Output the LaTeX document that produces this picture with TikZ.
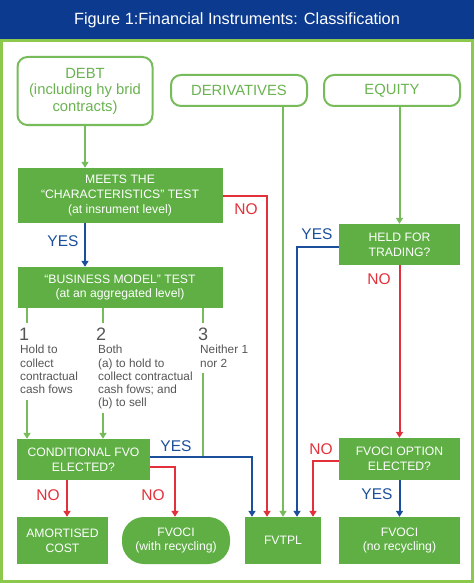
\documentclass[tikz,border=0pt]{standalone}
\usepackage{fontspec}
\setmainfont{Liberation Sans}
\usetikzlibrary{arrows.meta}
\definecolor{gfill}{HTML}{5FAF45}
\definecolor{gline}{HTML}{77BB5A}
\definecolor{gtxt}{HTML}{6AB350}
\definecolor{frame}{HTML}{8CC84B}
\definecolor{tblue}{HTML}{0B3A8E}
\definecolor{lblue}{HTML}{1B4F9C}
\definecolor{lred}{HTML}{E2313B}
\definecolor{grey}{HTML}{555555}
\tikzset{
  gbox/.style={fill=gfill, draw=none, text=white, font=\fontsize{12.2}{14.8}\selectfont, align=center, inner sep=0pt},
  obox/.style={draw=gline, line width=2pt, fill=white, rounded corners=10pt, text=gtxt, font=\fontsize{14.8}{16.5}\selectfont, align=center, inner sep=0pt},
  arr/.style={-{Triangle[width=7pt,length=6pt]}, line width=2pt},
  garr/.style={arr, draw=gline},
  barr/.style={arr, draw=lblue},
  rarr/.style={arr, draw=lred},
  gl/.style={draw=gline, line width=2pt},
  lblb/.style={text=lblue, font=\fontsize{15.5}{16}\selectfont, inner sep=0pt},
  lblr/.style={text=lred, font=\fontsize{15.5}{16}\selectfont, inner sep=0pt},
  num/.style={text=grey, font=\fontsize{18}{18}\selectfont, inner sep=0pt, anchor=base west},
  gtext/.style={text=grey, font=\fontsize{11.8}{13.3}\selectfont, align=left, inner sep=0pt, anchor=north west},
}
\begin{document}
\begin{tikzpicture}[x=1pt,y=-1pt]
\useasboundingbox (0,0) rectangle (474,583);
\fill[tblue] (0,0) rectangle (474,39);
\node[text=white, font=\fontsize{16.3}{18}\selectfont] (title) at (237,20) {Figure 1:Financial Instruments: Classification};
\draw[frame, line width=3pt] (1.5,40.5) rectangle (472,581.5);

% top boxes
\node[obox, minimum width=135pt, minimum height=68pt] (debt) at (85,91) {DEBT\\(including hy brid\\contracts)};
\node[obox, minimum width=136pt, minimum height=31pt] (deriv) at (239,90.5) {DERIVATIVES};
\node[obox, minimum width=136pt, minimum height=31pt] (equity) at (392,90.5) {EQUITY};

% green decision boxes
\node[gbox, minimum width=205pt, minimum height=55pt] (meets) at (120,195.5) {MEETS THE\\\char"201C CHARACTERISTICS\char"201D{} TEST\\(at insrument level)};
\node[gbox, minimum width=205pt, minimum height=41pt] (bm) at (120,287.5) {\char"201C BUSINESS MODEL\char"201D{} TEST\\(at an aggregated level)};
\node[gbox, minimum width=121pt, minimum height=41pt] (held) at (399.5,244.5) {HELD FOR\\TRADING?};
\node[gbox, minimum width=133pt, minimum height=41pt] (cfvo) at (83.5,459.5) {CONDITIONAL FVO\\ELECTED?};
\node[gbox, minimum width=121pt, minimum height=42pt] (fopt) at (399.5,459) {FVOCI OPTION\\ELECTED?};

% outcome boxes
\node[gbox, minimum width=91pt, minimum height=47pt] (amort) at (62.5,540.5) {AMORTISED\\COST};
\node[gbox, minimum width=108pt, minimum height=47pt, rounded corners=22pt] (fvrec) at (176,540.5) {FVOCI\\(with recycling)};
\node[gbox, minimum width=76pt, minimum height=47pt] (fvtpl) at (283,540.5) {FVTPL};
\node[gbox, minimum width=121pt, minimum height=47pt] (fvno) at (399.5,540.5) {FVOCI\\(no recycling)};

% business model branches
\coordinate (b1) at (27,323);
\coordinate (b2) at (103,323);
\coordinate (b3) at (203,323);
\draw[gl] (bm.south -| b1) -- (b1);
\draw[gl] (bm.south -| b2) -- (b2);
\draw[gl] (bm.south -| b3) -- (b3);
\node[num] (n1) at (19,340) {1};
\node[num] (n2) at (96,340) {2};
\node[num] (n3) at (198,340) {3};
\node[gtext] (t1) at (20,345) {Hold to\\collect\\contractual\\cash fows};
\node[gtext] (t2) at (98,345) {Both\\(a) to hold to\\collect contractual\\cash fows; and\\(b) to sell};
\node[gtext] (t3) at (200,345) {Neither 1\\nor 2};
\coordinate (a1) at (27,400);
\coordinate (a2) at (103,413);
\coordinate (a3) at (203,373);
\draw[garr] (a1) -- (cfvo.north -| a1);
\draw[garr] (a2) -- (cfvo.north -| a2);

% debt path
\draw[garr] (debt.south) -- (debt.south |- meets.north);
\draw[barr] (meets.south -| debt.south) -- (bm.north -| debt.south);
\node[lblb] (yes1) at (63,241) {YES};
\draw[rarr] (meets.east) -| ([xshift=-16pt]fvtpl.north);
\node[lblr] (no1) at (246,209) {NO};

% derivatives & equity
\draw[garr] (deriv.south -| fvtpl.north) -- (fvtpl.north);
\draw[garr] (equity.south -| held.north) -- (held.north);
\draw[barr] ([yshift=-2.5pt]held.west) -| ([xshift=14pt]fvtpl.north);
\node[lblb] (yes2) at (317,234) {YES};
\draw[rarr] (held.south) -- (fopt.north);
\node[lblr] (no2) at (379,279) {NO};

% conditional FVO
\coordinate (j3) at (203,457);
\draw[gl] (a3) -- (j3);
\draw[barr] ([yshift=2.5pt]cfvo.east) -| ([xshift=-31pt]fvtpl.north);
\node[lblb] (yes3) at (176,446) {YES};
\draw[rarr] ([yshift=-7.5pt]cfvo.east) -| ([xshift=-1pt]fvrec.north);
\node[lblr] (no3) at (153,495) {NO};
\draw[rarr] ([xshift=-16.5pt]cfvo.south) -- ([xshift=4.5pt]amort.north);
\node[lblr] (no4) at (48,495) {NO};

% FVOCI option
\draw[rarr] ([yshift=-2pt]fopt.west) -| ([xshift=30pt]fvtpl.north);
\node[lblr] (no5) at (321,449) {NO};
\draw[barr] (fopt.south) -- (fvno.north);
\node[lblb] (yes4) at (377,494) {YES};
\end{tikzpicture}
\end{document}
